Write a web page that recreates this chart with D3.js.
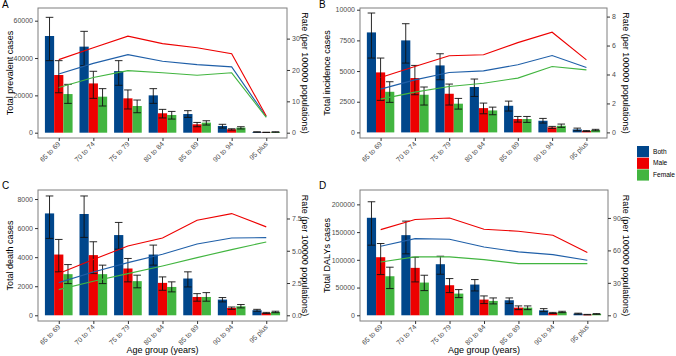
<!DOCTYPE html>
<html>
<head>
<meta charset="utf-8">
<script src="https://cdn.jsdelivr.net/npm/d3@7"></script>
<style>
  body { margin: 0; background: #fff; }
  text { font-family: "Liberation Sans", Arial, sans-serif; }
</style>
</head>
<body>
<div class="canva"></div>
<script>
// age groups and sex series
const ageGroups = ["65 to 69", "70 to 74", "75 to 79", "80 to 84", "85 to 89", "90 to 94", "95 plus"];
const sexes = ["Both", "Male", "Female"];
const colors = ["#00468B", "#ED0000", "#42B540"];

// A: prevalent cases (Both, Male, Female) + 95% UI, rate per 100000
const prevCases = [[51800, 46100, 33000, 20000, 10000, 3600, 360],
                   [30900, 26400, 18400, 10400, 4500, 1800, 180],
                   [20700, 19300, 14300, 9500, 5400, 2700, 360]];
const prevLower = [[38600, 35900, 25400, 15700, 8200, 2500, 250],
                   [21400, 18400, 12700, 7900, 3200, 1400, 120],
                   [15700, 14300, 10700, 7300, 4100, 2000, 250]];
const prevUpper = [[61800, 54300, 38600, 23600, 11800, 4500, 480],
                   [38600, 32900, 22900, 12500, 5500, 2100, 240],
                   [25900, 23600, 17500, 11400, 6400, 3200, 470]];
const prevRate = [[18.7, 22.1, 24.9, 22.8, 21.7, 21.0, 5.1],
                  [23.3, 27.1, 30.8, 28.4, 27.1, 25.2, 5.3],
                  [14.4, 17.6, 19.8, 19.1, 18.3, 19.1, 4.9]];

// B: incidence
const incCases = [[8150, 7500, 5460, 3700, 2170, 950, 245],
                  [4890, 4430, 3150, 1980, 1090, 410, 110],
                  [3310, 3070, 2340, 1790, 1090, 540, 190]];
const incLower = [[6060, 5650, 4290, 2930, 1740, 760, 135],
                  [2610, 3070, 2230, 1520, 840, 330, 70],
                  [2450, 2230, 1900, 1440, 815, 410, 130]];
const incUpper = [[9730, 8860, 6410, 4350, 2550, 1140, 350],
                  [6060, 5460, 3940, 2390, 1300, 490, 150],
                  [4130, 3700, 2770, 2060, 1300, 680, 250]];
const incRate = [[2.99, 3.63, 4.14, 4.25, 4.67, 5.31, 4.48],
                 [3.79, 4.55, 5.29, 5.36, 6.20, 6.92, 5.01],
                 [2.30, 2.78, 3.17, 3.40, 3.75, 4.55, 4.32]];

// C: deaths
const deathCases = [[7010, 6970, 5520, 4180, 2530, 1080, 345],
                    [4180, 4140, 3220, 2230, 1260, 510, 160],
                    [2830, 2830, 2350, 1950, 1260, 620, 230]];
const deathLower = [[5290, 5360, 4550, 3450, 1950, 920, 280],
                    [2990, 2870, 2300, 1720, 970, 410, 120],
                    [2180, 2180, 1890, 1610, 970, 510, 180]];
const deathUpper = [[8210, 8210, 6390, 4830, 2990, 1220, 410],
                    [5220, 5060, 3910, 2640, 1490, 570, 200],
                    [3490, 3450, 2760, 2300, 1560, 740, 280]];
const deathRate = [[2.53, 3.36, 4.08, 4.73, 5.53, 5.99, 6.02],
                   [3.23, 4.32, 5.37, 5.99, 7.36, 7.88, 6.85],
                   [1.99, 2.64, 3.23, 3.82, 4.47, 5.09, 5.68]];

// D: DALYs
const dalyCases = [[175800, 144500, 92100, 55400, 27100, 9000, 3000],
                   [104700, 85500, 54200, 28300, 13800, 4200, 1200],
                   [70400, 59000, 39100, 25900, 13800, 6000, 2400]];
const dalyLower = [[126400, 110800, 74000, 43900, 21100, 6600, 2200],
                   [73400, 60200, 40900, 21100, 10200, 3200, 800],
                   [48200, 44500, 31900, 20500, 10200, 4800, 1800]];
const dalyUpper = [[204700, 169800, 106500, 64400, 31300, 12000, 3800],
                   [129400, 104700, 66200, 34900, 16900, 5200, 1600],
                   [86700, 72200, 46300, 31300, 16900, 7200, 3000]];
const dalyRate = [[63.8, 70.9, 70.3, 63.2, 58.6, 56.1, 50.9],
                  [79.2, 88.5, 90.0, 79.6, 77.7, 74.0, 58.0],
                  [49.3, 54.0, 54.0, 51.5, 47.8, 47.8, 47.8]];

const svg = d3.select(".canva").append("svg")
              .attr("width", 676)
              .attr("height", 356);

const panels = [
  {tag: "A", x0: 38, x1: 287, y0: 8, y1: 138, dom: [-2840, 66800], k: 1680,
   lt: [0, 20000, 40000, 60000], rt: [0, 10, 20, 30], rfmt: d3.format("d"),
   title: "Total prevalent cases", cases: prevCases, lo: prevLower, hi: prevUpper, rate: prevRate,
   tagX: 2, ltX: 11, rtX: 304, xTitle: false},
  {tag: "B", x0: 360, x1: 607, y0: 8, y1: 138, dom: [-456, 10140], k: 1180,
   lt: [0, 2500, 5000, 7500, 10000], rt: [0, 2, 4, 6, 8], rfmt: d3.format("d"),
   title: "Total incidence cases", cases: incCases, lo: incLower, hi: incUpper, rate: incRate,
   tagX: 319, ltX: 328, rtX: 625, xTitle: false},
  {tag: "C", x0: 38, x1: 287, y0: 190, y1: 321, dom: [-393, 8621], k: 888,
   lt: [0, 2000, 4000, 6000, 8000], rt: [0, 2.5, 5, 7.5], rfmt: d3.format(".1f"),
   title: "Total death cases", cases: deathCases, lo: deathLower, hi: deathUpper, rate: deathRate,
   tagX: 2, ltX: 11, rtX: 304, xTitle: true},
  {tag: "D", x0: 360, x1: 608, y0: 190, y1: 321, dom: [-10300, 225900], k: 1950,
   lt: [0, 50000, 100000, 150000, 200000], rt: [0, 30, 60, 90], rfmt: d3.format("d"),
   title: "Total DALYs cases", cases: dalyCases, lo: dalyLower, hi: dalyUpper, rate: dalyRate,
   tagX: 319, ltX: 328, rtX: 625, xTitle: true}
];

panels.forEach(function(p) {
  const g = svg.append("g");

  const x = d3.scalePoint().domain(ageGroups).range([p.x0, p.x1]).padding(0.6);
  const step = x.step();
  const bw = step * 0.8 / 3;
  const y = d3.scaleLinear().domain(p.dom).range([p.y1, p.y0]);
  const yr = d3.scaleLinear().domain([p.dom[0] / p.k, p.dom[1] / p.k]).range([p.y1, p.y0]);

  // bars
  sexes.forEach(function(s, si) {
    g.selectAll(".bar" + si)
     .data(p.cases[si])
     .enter()
     .append("rect")
     .attr("x", (d, i) => x(ageGroups[i]) + (si - 1.5) * bw)
     .attr("y", d => y(d))
     .attr("width", bw)
     .attr("height", d => y(0) - y(d))
     .style("fill", colors[si]);
  });

  // error bars
  sexes.forEach(function(s, si) {
    const cw = step * 0.11;
    p.cases[si].forEach(function(v, i) {
      const cx = x(ageGroups[i]) + (si - 1) * bw;
      const lo = y(p.lo[si][i]), hi = y(p.hi[si][i]);
      g.append("line").attr("x1", cx).attr("x2", cx).attr("y1", lo).attr("y2", hi)
       .style("stroke", "#111").style("stroke-width", 0.9);
      [lo, hi].forEach(function(yy) {
        g.append("line").attr("x1", cx - cw).attr("x2", cx + cw).attr("y1", yy).attr("y2", yy)
         .style("stroke", "#111").style("stroke-width", 0.9);
      });
    });
  });

  // rate lines
  const rateLine = d3.line()
                     .x((d, i) => x(ageGroups[i]))
                     .y(d => yr(d));
  sexes.forEach(function(s, si) {
    g.append("path")
     .datum(p.rate[si])
     .attr("d", rateLine)
     .style("fill", "none")
     .style("stroke", colors[si] == "#00468B" ? "#1f5fa8" : colors[si])
     .style("stroke-width", 1.1);
  });

  // panel border
  g.append("rect")
   .attr("x", p.x0).attr("y", p.y0)
   .attr("width", p.x1 - p.x0).attr("height", p.y1 - p.y0)
   .style("fill", "none").style("stroke", "#7f7f7f").style("stroke-width", 1);

  // axes
  const left = g.append("g").attr("transform", `translate(${p.x0},0)`)
                .call(d3.axisLeft(y).tickValues(p.lt).tickSize(3).tickPadding(2).tickFormat(d3.format("d")));
  const right = g.append("g").attr("transform", `translate(${p.x1},0)`)
                 .call(d3.axisRight(yr).tickValues(p.rt).tickSize(3).tickPadding(2).tickFormat(p.rfmt));
  const bottom = g.append("g").attr("transform", `translate(0,${p.y1})`)
                  .call(d3.axisBottom(x).tickSize(3).tickPadding(2));
  [left, right, bottom].forEach(function(a) {
    a.select(".domain").remove();
    a.selectAll(".tick line").style("stroke", "#333");
    a.selectAll(".tick text").style("fill", "#4d4d4d").style("font-size", "7px")
     .style("font-family", "'Liberation Sans', Arial, sans-serif");
  });
  bottom.selectAll(".tick text")
        .attr("text-anchor", "end")
        .attr("dy", null)
        .attr("y", 0)
        .attr("transform", "translate(1.5,6.5) rotate(-45)");

  // axis titles
  g.append("text")
   .attr("transform", `translate(${p.ltX},${(p.y0 + p.y1) / 2}) rotate(-90)`)
   .attr("text-anchor", "middle").attr("dominant-baseline", "middle")
   .style("font-size", "9px").text(p.title);
  g.append("text")
   .attr("transform", `translate(${p.rtX},${(p.y0 + p.y1) / 2}) rotate(90)`)
   .attr("text-anchor", "middle").attr("dominant-baseline", "middle")
   .style("font-size", "9px").text("Rate (per 100000 populations)");
  if (p.xTitle) {
    g.append("text")
     .attr("x", (p.x0 + p.x1) / 2).attr("y", 353)
     .attr("text-anchor", "middle")
     .style("font-size", "9px").text("Age group (years)");
  }

  // panel tag
  g.append("text").attr("x", p.tagX).attr("y", p.y0 - (p.tag == "A" || p.tag == "B" ? 0 : 1))
   .style("font-size", "10px").text(p.tag);
});

// legend
const legend = svg.append("g").attr("transform", "translate(637,146)");
sexes.forEach(function(s, si) {
  legend.append("rect").attr("x", 0).attr("y", si * 11.7)
        .attr("width", 12).attr("height", 11.2).style("fill", colors[si]);
  legend.append("text").attr("x", 16).attr("y", si * 11.7 + 5.8)
        .attr("dominant-baseline", "middle")
        .style("font-size", "6.6px").text(s);
});
</script>
</body>
</html>
